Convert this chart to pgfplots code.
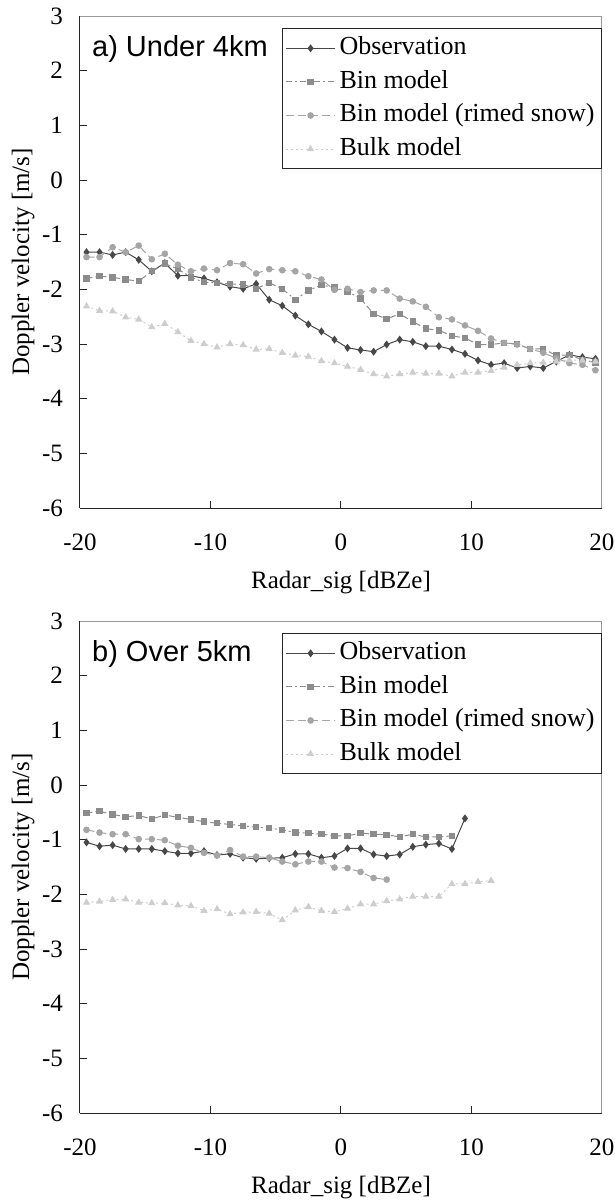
\documentclass[border=0pt]{standalone}
\usepackage{fontspec}
\setmainfont{Liberation Serif}
\newfontfamily\labelsans{Liberation Sans}
\usepackage{pgfplots}
\usepackage{pgfplotstable}
\pgfplotsset{compat=1.18}

\definecolor{obscol}{HTML}{484848}
\definecolor{bincol}{HTML}{8C8C8C}
\definecolor{rimcol}{HTML}{A5A5A5}
\definecolor{bulkcol}{HTML}{CDCDCD}

% Under 4 km
\pgfplotstableread{
x     obs    bin    rimed  bulk
-19.5 -1.32 -1.80 -1.41 -2.31
-18.5 -1.32 -1.76 -1.41 -2.39
-17.5 -1.37 -1.78 -1.23 -2.40
-16.5 -1.32 -1.82 -1.32 -2.51
-15.5 -1.46 -1.85 -1.20 -2.55
-14.5 -1.67 -1.67 -1.45 -2.69
-13.5 -1.52 -1.53 -1.35 -2.63
-12.5 -1.75 -1.63 -1.55 -2.78
-11.5 -1.75 -1.78 -1.67 -2.94
-10.5 -1.80 -1.87 -1.62 -3.00
-9.5  -1.87 -1.88 -1.65 -3.06
-8.5  -1.95 -1.90 -1.52 -3.00
-7.5  -1.99 -1.91 -1.54 -3.02
-6.5  -1.90 -1.99 -1.71 -3.10
-5.5  -2.19 -1.88 -1.63 -3.09
-4.5  -2.30 -1.99 -1.65 -3.16
-3.5  -2.48 -2.19 -1.67 -3.21
-2.5  -2.64 -2.02 -1.76 -3.23
-1.5  -2.77 -1.92 -1.82 -3.31
-0.5  -2.92 -1.97 -2.01 -3.35
0.5   -3.07 -2.04 -1.99 -3.41
1.5   -3.11 -2.17 -2.05 -3.47
2.5   -3.14 -2.45 -2.02 -3.55
3.5   -3.01 -2.54 -2.02 -3.59
4.5   -2.92 -2.45 -2.17 -3.55
5.5   -2.96 -2.59 -2.22 -3.52
6.5   -3.04 -2.72 -2.32 -3.54
7.5   -3.04 -2.75 -2.51 -3.54
8.5   -3.10 -2.85 -2.55 -3.59
9.5   -3.18 -2.89 -2.66 -3.52
10.5  -3.30 -3.01 -2.76 -3.52
11.5  -3.38 -3.01 -2.90 -3.49
12.5  -3.35 -2.98 -2.98 -3.43
13.5  -3.44 -3.00 -3.01 -3.38
14.5  -3.41 -3.09 -3.09 -3.35
15.5  -3.44 -3.09 -3.16 -3.34
16.5  -3.32 -3.21 -3.26 -3.32
17.5  -3.20 -3.20 -3.35 -3.29
18.5  -3.24 -3.29 -3.38 -3.30
19.5  -3.27 -3.34 -3.48 -3.32
}\lowtable

% Over 5 km
\pgfplotstableread{
x     obs    bin    rimed  bulk
-19.5 -1.05 -0.51 -0.82 -2.15
-18.5 -1.12 -0.48 -0.87 -2.13
-17.5 -1.10 -0.54 -0.90 -2.10
-16.5 -1.17 -0.58 -0.90 -2.09
-15.5 -1.17 -0.56 -0.99 -2.15
-14.5 -1.17 -0.62 -0.99 -2.16
-13.5 -1.21 -0.55 -1.01 -2.16
-12.5 -1.25 -0.59 -1.11 -2.20
-11.5 -1.25 -0.63 -1.15 -2.21
-10.5 -1.21 -0.67 -1.24 -2.30
-9.5  -1.28 -0.70 -1.29 -2.27
-8.5  -1.26 -0.72 -1.19 -2.36
-7.5  -1.33 -0.75 -1.31 -2.33
-6.5  -1.35 -0.77 -1.31 -2.32
-5.5  -1.34 -0.79 -1.33 -2.35
-4.5  -1.33 -0.82 -1.40 -2.47
-3.5  -1.26 -0.87 -1.45 -2.29
-2.5  -1.26 -0.88 -1.40 -2.23
-1.5  -1.33 -0.90 -1.40 -2.30
-0.5  -1.30 -0.93 -1.51 -2.32
0.5   -1.16 -0.93 -1.52 -2.26
1.5   -1.16 -0.88 -1.59 -2.18
2.5   -1.27 -0.90 -1.70 -2.18
3.5   -1.30 -0.91 -1.73 -2.12
4.5   -1.27 -0.95 nan   -2.09
5.5   -1.13 -0.90 nan   -2.04
6.5   -1.09 -0.95 nan   -2.04
7.5   -1.07 -0.95 nan   -2.04
8.5   -1.17 -0.93 nan   -1.81
9.5   -0.61 nan   nan   -1.81
10.5  nan   nan   nan   -1.77
11.5  nan   nan   nan   -1.75
}\hightable

\tikzset{
  panellabel/.style={anchor=west, inner sep=0pt,
    font=\labelsans\fontsize{14.5}{17}\selectfont},
}

\pgfplotsset{
  velpanel/.style={
    width=261pt, height=246pt, scale only axis,
    xmin=-20, xmax=20, ymin=-6, ymax=3,
    xtick={-20,-10,0,10,20}, ytick={-6,-5,...,3},
    axis x line*=bottom, axis y line*=left,
    axis line style={draw=black!85, line width=0.5pt, -},
    tick align=inside, major tick length=3.5pt,
    tick style={black!85, line width=0.5pt},
    /pgf/number format/assume math mode=true,
    ticklabel style={font=\fontsize{12.5}{14}\selectfont},
    xticklabel style={yshift=-9.5pt},
    yticklabel style={xshift=-5pt},
    xlabel={Radar\_sig [dBZe]},
    ylabel={Doppler velocity [m/s]},
    label style={font=\fontsize{12.5}{14}\selectfont},
    xlabel style={at={(axis description cs:0.5,-0.1524)}, anchor=center},
    ylabel style={at={(axis description cs:-0.109,0.5)}, anchor=center},
    clip=false,
    unbounded coords=discard,
    legend cell align=left,
    legend image code/.code={%
      \draw[mark repeat=2,mark phase=2,#1]
        plot coordinates {(0cm,0cm) (0.43cm,0cm) (0.86cm,0cm)};},
    legend style={
      at={(axis description cs:1,1)}, anchor=north east, yshift=-6pt,
      draw=black!85, line width=0.5pt,
      font=\fontsize{13}{15}\selectfont,
      inner sep=1.5pt, row sep=0pt,
      nodes={inner sep=2pt, text height=9.6pt, text depth=3.2pt},
    },
    every axis plot/.append style={line width=0.5pt},
  },
  obsstyle/.style={color=obscol, solid, mark=diamond*, mark size=1.6pt,
    mark options={solid, fill=obscol}},
  binstyle/.style={color=bincol, dash pattern=on 3pt off 1.5pt on 1pt off 1.5pt,
    mark=square*, mark size=1.35pt, mark options={solid, fill=bincol}},
  rimstyle/.style={color=rimcol, dash pattern=on 4pt off 2pt,
    mark=*, mark size=1.4pt, mark options={solid, fill=rimcol}},
  bulkstyle/.style={color=bulkcol, dash pattern=on 1pt off 1.5pt,
    mark=triangle*, mark size=1.6pt, mark options={solid, fill=bulkcol}},
}

\begin{document}
\begin{tikzpicture}
\path[use as bounding box] (-40pt,-346.5pt) rectangle (267.5pt,254pt);

\begin{axis}[velpanel, at={(0,0)}]
  \addplot[obsstyle]  table[x=x, y=obs]   {\lowtable};
  \addplot[binstyle]  table[x=x, y=bin]   {\lowtable};
  \addplot[rimstyle]  table[x=x, y=rimed] {\lowtable};
  \addplot[bulkstyle] table[x=x, y=bulk]  {\lowtable};
  \legend{Observation, Bin model, Bin model (rimed snow), Bulk model}
  \draw[black!40, line width=0.5pt] (rel axis cs:0,1) -- (rel axis cs:1,1) -- (rel axis cs:1,0);
  \node[panellabel] at (axis cs:-19.1,2.4) {a) Under 4km};
\end{axis}

\begin{axis}[velpanel, at={(0,-302.5pt)}]
  \addplot[obsstyle]  table[x=x, y=obs]   {\hightable};
  \addplot[binstyle]  table[x=x, y=bin]   {\hightable};
  \addplot[rimstyle]  table[x=x, y=rimed] {\hightable};
  \addplot[bulkstyle] table[x=x, y=bulk]  {\hightable};
  \legend{Observation, Bin model, Bin model (rimed snow), Bulk model}
  \draw[black!40, line width=0.5pt] (rel axis cs:0,1) -- (rel axis cs:1,1) -- (rel axis cs:1,0);
  \node[panellabel] at (axis cs:-19.1,2.4) {b) Over 5km};
\end{axis}
\end{tikzpicture}
\end{document}
